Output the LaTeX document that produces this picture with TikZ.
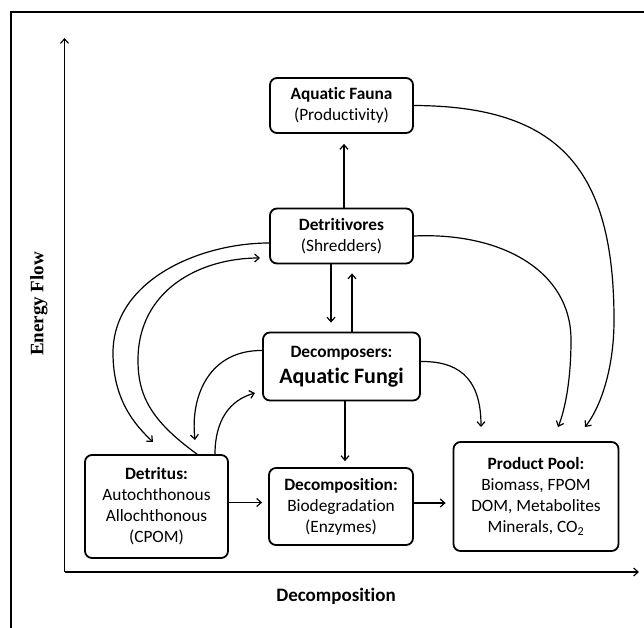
\documentclass[tikz,border=0pt]{standalone}
\usepackage{fontspec}
\setmainfont{Carlito}[Ligatures=NoCommon]
\newfontfamily\axisserif{Liberation Serif}
\usetikzlibrary{arrows.meta,calc}
\begin{document}
\begin{tikzpicture}[x=1pt,y=-1pt,
  box/.style={draw, line width=1.8pt, rounded corners=7pt, inner sep=0pt, align=center,
              font=\fontsize{17.3}{21}\selectfont},
  conn/.style={line width=1.2pt, -{Straight Barb[length=4.5pt,width=8pt,line width=1.2pt]}},
  axis/.style={line width=1.2pt, -{Straight Barb[length=4.5pt,width=8pt,line width=1.2pt]}},
  frameline/.style={line width=2.2pt, line cap=rect}]
\useasboundingbox (0,0) rectangle (644,627);

% frame
\coordinate (fr1) at (644,12);
\coordinate (fr2) at (11,12);
\coordinate (fr3) at (11,627);
\draw[frameline] (fr1) -- (fr2) -- (fr3);

% axes
\coordinate (origin) at (64.5,572);
\coordinate (ytop) at (64.5,38);
\coordinate (xend) at (639,572);
\draw[axis] (origin) -- (ytop);
\draw[axis] (origin) -- (xend);
\node[font=\fontsize{19}{22}\selectfont\bfseries, anchor=base] (xlab) at (336,601) {Decomposition};
\node[font=\axisserif\fontsize{19}{22}\selectfont\bfseries, rotate=90] (ylab) at (39,304) {Energy Flow};

% boxes
\node[box, minimum width=143pt, minimum height=55pt] (fauna) at (341.5,105.5)
  {\textbf{Aquatic Fauna}\\(Productivity)};
\node[box, minimum width=143pt, minimum height=55pt] (detri) at (341.5,236)
  {\textbf{Detritivores}\\(Shredders)};
\node[box, minimum width=157pt, minimum height=68pt] (decomp) at (341.5,366.5)
  {\textbf{Decomposers:}\\[5pt]{\fontsize{22}{26}\selectfont\textbf{Aquatic Fungi}}};
\node[box, minimum width=143pt, minimum height=103pt] (detritus) at (156.5,506.5)
  {\textbf{Detritus:}\\Autochthonous\\Allochthonous\\(CPOM)};
\node[box, minimum width=144pt, minimum height=77pt] (degr) at (341,506.5)
  {\textbf{Decomposition:}\\Biodegradation\\(Enzymes)};
\node[box, minimum width=165pt, minimum height=109pt] (pool) at (536,496.5)
  {\textbf{Product Pool:}\\Biomass, FPOM\\DOM, Metabolites\\Minerals, CO\textsubscript{2}};

% straight connectors
\draw[conn, shorten >=10pt] ([xshift=2.5pt]detri.north) -- ([xshift=2.5pt]fauna.south);
\draw[conn, shorten >=9pt] ([xshift=-10.5pt]detri.south) -- ([xshift=-10.5pt]decomp.north);
\draw[conn, shorten >=9pt] ([xshift=10.5pt]decomp.north) -- ([xshift=10.5pt]detri.south);
\draw[conn, shorten >=6pt] ([xshift=3.5pt]decomp.south) -- ([xshift=4pt]degr.north);
\draw[conn, shorten >=6pt] ([yshift=4pt]detritus.east) -- ([yshift=4pt]degr.west);
\draw[conn, shorten >=7pt] ([yshift=3.5pt]degr.east) -- ([yshift=-6.5pt]pool.west);

% free ends of curved connectors
\coordinate (t7) at (585,427);
\coordinate (t8) at (558,427);
\coordinate (t9) at (481,427);
\coordinate (t10) at (153,442);
\coordinate (t11) at (260,258);
\coordinate (t12) at (195,440);
\coordinate (t13) at (255,393);

% curved connectors
\draw[conn] (fauna.east) .. controls (560,106) and (614,170) .. (614,320)
   .. controls (614,370) and (600,408) .. (t7);
\draw[conn] (detri.east) .. controls (500,232) and (571,270) .. (571,340)
   .. controls (571,380) and (565,410) .. (t8);
\draw[conn] ([yshift=5pt]decomp.east) .. controls (465,361) and (481,385) .. (t9);
\draw[conn] ([yshift=-7pt]detri.west) .. controls (200,243) and (113,280) .. (113,353)
   .. controls (113,400) and (135,425) .. (t10);
\draw[conn] ([xshift=40.5pt]detritus.north) .. controls (150,420) and (138,395) .. (138,360)
   .. controls (138,290) and (200,258) .. (t11);
\draw[conn] ([yshift=16pt]decomp.west) .. controls (210,350) and (190,395) .. (t12);
\draw[conn] ([xshift=58.5pt]detritus.north) .. controls (215,420) and (230,400) .. (t13);
\end{tikzpicture}
\end{document}
